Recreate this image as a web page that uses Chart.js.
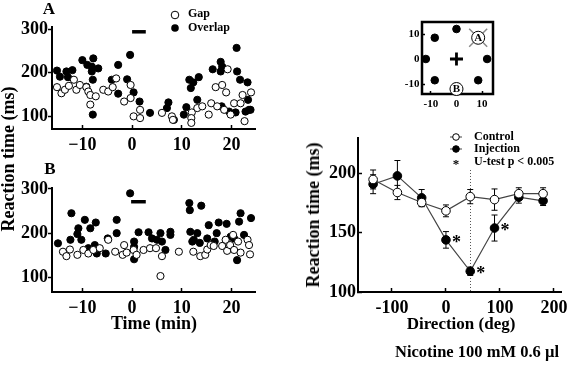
<!DOCTYPE html>
<html><head><meta charset="utf-8">
<script src="https://cdn.jsdelivr.net/npm/chart.js@4.4.0/dist/chart.umd.min.js"></script>
<style>
html,body{margin:0;padding:0;background:#fff;}
#wrap{position:relative;width:567px;height:365px;overflow:hidden;font-family:"Liberation Serif","Times New Roman",serif;font-weight:bold;color:#000;}
canvas{position:absolute;left:0;top:0;}
.t{position:absolute;white-space:nowrap;line-height:1;transform:translate(-50%,-50%);}
.r{transform:translate(-50%,-50%) rotate(-90deg);}
</style></head><body>
<div id="wrap">
<canvas id="cA" width="567" height="365"></canvas>
<canvas id="cB" width="567" height="365"></canvas>
<canvas id="cR" width="567" height="365"></canvas>
<canvas id="cI" width="567" height="365"></canvas>
<div class="t" style="left:49px;top:8px;font-size:17px;">A</div>
<div class="t" style="left:50px;top:168px;font-size:17px;">B</div>
<div class="t r" style="left:8px;top:159px;font-size:18px;">Reaction time (ms)</div>
<div class="t" style="left:154px;top:323px;font-size:18px;">Time (min)</div>
<div class="t r" style="left:313px;top:215px;font-size:18px;">Reaction time (ms)</div>
<div class="t" style="left:461px;top:323px;font-size:17px;">Direction (deg)</div>
<div class="t" style="left:477px;top:352px;font-size:16.5px;">Nicotine 100 mM 0.6 µl</div>
</div>
<script>
// ---------- DATA ----------
const timeTicks = [-10, 0, 10, 20];
const rtTicksAB = [100, 200, 300];

// Panel A
const gapA_t  = [-15.1,-14.2,-13.5,-12.7,-11.7,-11.2,-10.5,-9.2,-8.8,-8.4,-8.4,-7.3,-5.8,-4.8,-3.9,-3.2,-1.6,-0.3,-0.3,0.3,1.6,1.6,6,8,8.2,12,11.9,11.9,13.1,14.1,15.4,15.9,16.8,18.1,18.9,19.2,17.1,18.5,20.5,22.2,21.8,23.9,22.6,19.8];
const gapA_rt = [167,153,161,170,184,161,172,167,157,149,127,146,161,157,167,187,134,172,142,100,96,115,108,100,92,109,96,85,119,123,104,130,167,172,155,208,123,115,130,149,130,155,89,104];
const ovlA_t  = [-15.1,-14.5,-13.2,-12.9,-12,-10,-9,-7.8,-8.1,-6.8,-8.1,-7.9,-9.2,-7.9,-4.1,-2.8,-2.8,-0.4,-1,0.3,1.5,3.6,7,7.3,8.4,10.4,10.9,11.5,11.8,12.3,13.4,13.1,16.2,17.8,18.1,17.8,18,19.5,20.8,21,21.1,21.7,23.2,23.3,23.5,23.8,22.8];
const ovlA_rt = [205,191,203,190,206,229,218,233,214,210,203,184,168,104,184,218,152,241,185,155,134,108,119,132,92,104,121,184,165,178,190,138,208,225,214,203,123,111,109,257,203,184,178,138,115,115,111];
const barA_t  = [0, 2.75];
const barA_rt = [294, 294];

// Panel B
const gapB_t  = [-13.9,-13.2,-12.5,-11,-9.8,-8.8,-7.8,-6.5,-4.8,-3.4,-1.9,-1.1,-1.6,0.3,0.9,2.3,3.6,4.8,5.7,6,9.4,12.3,13.7,14.7,15.1,15.8,16.4,18.1,18.8,19.1,19.7,20.3,21.3,21.8,23.2,23.5,23.7,20.5];
const gapB_rt = [158,148,163,151,162,154,162,166,185,158,151,156,173,162,151,162,166,166,103,148,158,158,148,151,163,173,171,171,185,160,173,196,181,156,185,173,152,162];
const ovlB_t  = [-14.9,-12.2,-12.4,-10.8,-11,-9.5,-10.2,-8.4,-7.3,-7.5,-8.8,-7.1,-5.3,-4.9,-3.1,-3.1,-0.4,0.4,0.4,0.4,1.3,3.3,4,5,5.7,6,6.7,7.7,7.7,11.5,11.6,13.9,11.7,12.4,13.1,12.1,13.6,15.4,15.1,16.6,17,17.4,19,19.8,20.5,21.8,21.5,22.5,21.1,23.9];
const ovlB_rt = [177,245,185,211,198,230,185,211,224,173,166,154,154,188,230,200,290,181,169,141,202,202,188,185,200,181,162,203,196,268,252,262,203,185,200,181,178,218,188,181,200,224,221,192,188,245,226,196,139,234];
const barB_t  = [-0.2, 2.75];
const barB_rt = [271, 271];

// Right panel
const directions   = [-135, -90, -45, 0, 45, 90, 135, 180];
const controlRT    = [195, 184, 175.5, 168.5, 180.5, 178, 183, 183];
const controlErr   = [8, 6, 3.5, 5, 6, 9, 5, 5];
const injectionRT  = [191, 198, 179.5, 144, 117.5, 154, 180, 177];
const injectionErr = [8, 13, 7, 7, 3.5, 11, 5, 4];
const significant  = [false, false, false, true, true, true, false, false];
const markerDirection = 45;
const markerTopRT = 203;
const dirTicks  = [-100, 0, 100, 200];
const rtTicksR  = [100, 150, 200];

// Inset
const targetX = [0, -8.5, -12, -8.5, 8.5, 12];
const targetY = [12, 8.5, 0, -8.5, -8.5, 0];
const fixX = [0], fixY = [0];
const markNames = ['A', 'B'];
const markX = [8.5, 0];
const markY = [8.5, -12];
const markCrossed = [true, false];
const insetTicks = [-10, 0, 10];

// ---------- HELPERS ----------
const SERIF = '"Liberation Serif","Times New Roman",serif';
const zip = (xs, ys) => xs.map((x, i) => ({x, y: ys[i]}));
const minusFmt = v => String(v).replace('-', '\u2212');
const plainFmt = v => String(v);

function makeAxis(o) {
  return {
    type: 'linear',
    position: o.horizontal ? 'bottom' : 'left',
    min: o.min, max: o.max,
    afterBuildTicks: s => { s.ticks = o.ticks.map(v => ({value: v})); },
    afterFit: s => {
      if (o.horizontal) s.height = o.size; else s.width = o.size;
      s.paddingLeft = 0; s.paddingRight = 0; s.paddingTop = 0; s.paddingBottom = 0;
    },
    border: {display: true, color: '#000', width: o.bw || 2},
    grid: {display: true, drawOnChartArea: false, drawTicks: true, tickLength: o.tl, tickWidth: 1.5, tickColor: '#000'},
    ticks: {color: '#000', padding: o.pad, autoSkip: false, maxRotation: 0,
      font: {family: SERIF, size: o.fs, weight: 'bold'},
      callback: v => (o.fmt || plainFmt)(v)},
    title: {display: false}
  };
}
const baseOpts = (pad, scales, plugins) => ({
  responsive: false, animation: false, events: [],
  layout: {padding: pad},
  scales,
  plugins: Object.assign({legend: {display: false}, tooltip: {enabled: false}}, plugins || {})
});
const openPts = (data) => ({data, showLine: false, pointRadius: 3.6, pointBackgroundColor: '#fff', pointBorderColor: '#000', pointBorderWidth: 1, clip: false});
const fillPts = (data) => ({data, showLine: false, pointRadius: 3.6, pointBackgroundColor: '#000', pointBorderColor: '#000', pointBorderWidth: 1, clip: false});
const barLine = (data) => ({data, showLine: true, borderColor: '#000', borderWidth: 3.5, pointRadius: 0, clip: false});

// legend plugin for panel A
const legendA = {
  id: 'legendA',
  afterDraw(chart) {
    const c = chart.ctx;
    c.save();
    c.lineWidth = 1; c.strokeStyle = '#000';
    c.beginPath(); c.arc(175, 15, 3.8, 0, Math.PI * 2); c.fillStyle = '#fff'; c.fill(); c.stroke();
    c.beginPath(); c.arc(175, 28, 3.8, 0, Math.PI * 2); c.fillStyle = '#000'; c.fill();
    c.fillStyle = '#000'; c.font = 'bold 12px ' + SERIF; c.textBaseline = 'middle'; c.textAlign = 'left';
    c.fillText('Gap', 188, 14);
    c.fillText('Overlap', 188, 28);
    c.restore();
  }
};

// ---------- PANEL A ----------
new Chart(document.getElementById('cA'), {
  type: 'scatter',
  data: {datasets: [openPts(zip(gapA_t, gapA_rt)), fillPts(zip(ovlA_t, ovlA_rt)), barLine(zip(barA_t, barA_rt))]},
  options: baseOpts({left: 0, top: 27, right: 312, bottom: 206}, {
    x: makeAxis({horizontal: true, min: -16.1, max: 24.7, ticks: timeTicks, size: 30, tl: -4, pad: 10, fs: 18, fmt: minusFmt}),
    y: makeAxis({horizontal: false, min: 71, max: 305, ticks: rtTicksAB, size: 52, tl: 4, pad: 0, fs: 18})
  }),
  plugins: [legendA]
});

// ---------- PANEL B ----------
new Chart(document.getElementById('cB'), {
  type: 'scatter',
  data: {datasets: [openPts(zip(gapB_t, gapB_rt)), fillPts(zip(ovlB_t, ovlB_rt)), barLine(zip(barB_t, barB_rt))]},
  options: baseOpts({left: 0, top: 188, right: 312, bottom: 43}, {
    x: makeAxis({horizontal: true, min: -16.1, max: 24.7, ticks: timeTicks, size: 30, tl: -4, pad: 10, fs: 18, fmt: minusFmt}),
    y: makeAxis({horizontal: false, min: 67, max: 302, ticks: rtTicksAB, size: 52, tl: 4, pad: 0, fs: 18})
  })
});

// ---------- RIGHT PANEL ----------
const rightDecor = {
  id: 'rightDecor',
  beforeDatasetsDraw(chart) {
    const c = chart.ctx, xs = chart.scales.x, ys = chart.scales.y;
    c.save();
    // dotted marker line
    c.strokeStyle = '#555'; c.lineWidth = 1; c.setLineDash([1, 2]);
    c.beginPath();
    c.moveTo(Math.round(xs.getPixelForValue(markerDirection)) + 0.5, ys.getPixelForValue(markerTopRT));
    c.lineTo(Math.round(xs.getPixelForValue(markerDirection)) + 0.5, ys.getPixelForValue(ys.min));
    c.stroke();
    c.setLineDash([]);
    // error bars
    c.strokeStyle = '#000'; c.lineWidth = 1;
    chart.data.datasets.forEach(ds => {
      if (!ds.err) return;
      ds.data.forEach((p, i) => {
        const px = xs.getPixelForValue(p.x);
        const y1 = ys.getPixelForValue(p.y - ds.err[i]);
        const y2 = ys.getPixelForValue(p.y + ds.err[i]);
        c.beginPath();
        c.moveTo(px, y1); c.lineTo(px, y2);
        c.moveTo(px - 3, y1); c.lineTo(px + 3, y1);
        c.moveTo(px - 3, y2); c.lineTo(px + 3, y2);
        c.stroke();
      });
    });
    c.restore();
  },
  afterDraw(chart) {
    const c = chart.ctx, xs = chart.scales.x, ys = chart.scales.y;
    c.save();
    c.fillStyle = '#000';
    c.font = 'bold 18px ' + SERIF; c.textAlign = 'left'; c.textBaseline = 'alphabetic';
    injectionRT.forEach((v, i) => {
      if (!significant[i]) return;
      c.fillText('*', xs.getPixelForValue(directions[i]) + 6, ys.getPixelForValue(v) + 8);
    });
    // legend
    c.strokeStyle = '#444'; c.lineWidth = 1;
    [[137, false], [149, true]].forEach(([y, filled]) => {
      c.beginPath(); c.moveTo(450, y); c.lineTo(462, y); c.stroke();
      c.beginPath(); c.arc(456, y, 3.3, 0, Math.PI * 2);
      c.fillStyle = filled ? '#000' : '#fff'; c.fill();
      c.strokeStyle = '#000'; c.stroke(); c.strokeStyle = '#444';
    });
    c.fillStyle = '#000';
    c.font = 'bold 13px ' + SERIF; c.textAlign = 'center'; c.textBaseline = 'alphabetic';
    c.fillText('*', 456, 168);
    c.font = 'bold 12px ' + SERIF; c.textAlign = 'left'; c.textBaseline = 'middle';
    c.fillText('Control', 474, 137);
    c.fillText('Injection', 474, 149);
    c.fillText('U-test p < 0.005', 474, 162);
    c.restore();
  }
};
new Chart(document.getElementById('cR'), {
  type: 'scatter',
  data: {datasets: [
    {data: zip(directions, controlRT), err: controlErr, showLine: true, borderColor: '#444', borderWidth: 1.2,
     pointRadius: 4.3, pointBackgroundColor: '#fff', pointBorderColor: '#000', pointBorderWidth: 1, clip: false},
    {data: zip(directions, injectionRT), err: injectionErr, showLine: true, borderColor: '#444', borderWidth: 1.2,
     pointRadius: 4.3, pointBackgroundColor: '#000', pointBorderColor: '#000', pointBorderWidth: 1, clip: false}
  ]},
  options: baseOpts({left: 318, top: 138, right: 4, bottom: 43}, {
    x: makeAxis({horizontal: true, min: -163, max: 214.5, ticks: dirTicks, size: 30, tl: -4, pad: 10, fs: 18}),
    y: makeAxis({horizontal: false, min: 100, max: 230, ticks: rtTicksR, size: 40, tl: -4, pad: 6, fs: 18})
  }),
  plugins: [rightDecor]
});

// ---------- INSET ----------
const insetDecor = {
  id: 'insetDecor',
  afterDraw(chart) {
    const c = chart.ctx, a = chart.chartArea, xs = chart.scales.x, ys = chart.scales.y;
    c.save();
    c.strokeStyle = '#000'; c.lineWidth = 2.5;
    c.strokeRect(a.left, a.top, a.right - a.left, a.bottom - a.top);
    markNames.forEach((n, i) => {
      const px = xs.getPixelForValue(markX[i]), py = ys.getPixelForValue(markY[i]);
      if (markCrossed[i]) {
        c.strokeStyle = '#888'; c.lineWidth = 1.5;
        c.beginPath();
        c.moveTo(px - 9, py - 9); c.lineTo(px + 9, py + 9);
        c.moveTo(px + 9, py - 9); c.lineTo(px - 9, py + 9);
        c.stroke();
      }
      c.beginPath(); c.arc(px, py, 6.5, 0, Math.PI * 2);
      c.fillStyle = '#fff'; c.fill();
      c.strokeStyle = '#000'; c.lineWidth = 1; c.stroke();
      c.fillStyle = '#000'; c.font = 'bold 11px ' + SERIF; c.textAlign = 'center'; c.textBaseline = 'middle';
      c.fillText(n, px, py + 0.5);
    });
    c.restore();
  }
};
new Chart(document.getElementById('cI'), {
  type: 'scatter',
  data: {datasets: [
    {data: zip(targetX, targetY), showLine: false, pointRadius: 3.8, pointBackgroundColor: '#000', pointBorderColor: '#000', clip: false},
    {data: zip(fixX, fixY), showLine: false, pointStyle: 'cross', pointRadius: 6.5, pointBorderWidth: 2.8, pointBorderColor: '#000', clip: false}
  ]},
  options: baseOpts({left: 392, top: 22, right: 74, bottom: 251}, {
    x: makeAxis({horizontal: true, min: -13.5, max: 14.3, ticks: insetTicks, size: 20, tl: -3, pad: 7, fs: 11}),
    y: makeAxis({horizontal: false, min: -14, max: 14.8, ticks: insetTicks, size: 30, tl: -3, pad: 5.5, fs: 11})
  }),
  plugins: [insetDecor]
});
</script>
</body></html>
